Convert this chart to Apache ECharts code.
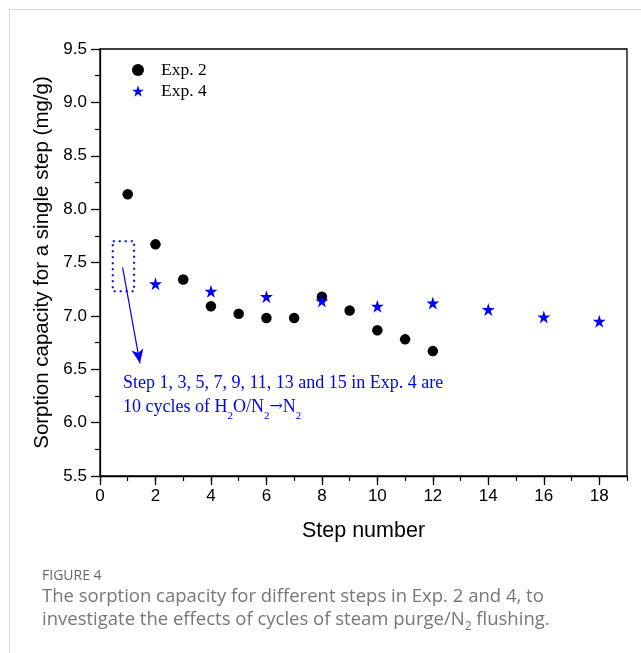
<!DOCTYPE html>
<html>
<head>
<meta charset="utf-8">
<script src="https://cdn.jsdelivr.net/npm/echarts@6/dist/echarts.min.js"></script>
<style>
html,body{margin:0;padding:0;background:#fff;}
#chart{width:641px;height:653px;}
</style>
</head>
<body>
<div id="chart"></div>
<script>
// ---- data ----
var exp2Steps = [1, 2, 3, 4, 5, 6, 7, 8, 9, 10, 11, 12];
var exp2Values = [8.14, 7.67, 7.34, 7.09, 7.02, 6.98, 6.98, 7.18, 7.05, 6.865, 6.78, 6.67];
var exp4Steps = [2, 4, 6, 8, 10, 12, 14, 16, 18];
var exp4Values = [7.30, 7.23, 7.18, 7.14, 7.09, 7.12, 7.06, 6.99, 6.95];
var xTickLabels = [0, 2, 4, 6, 8, 10, 12, 14, 16, 18];
var boxCorners = [[0.46, 7.70], [1.23, 7.70], [1.23, 7.23], [0.46, 7.23], [0.46, 7.70]];
var arrowEnds = [[0.815, 7.455], [1.44, 6.556]];

var starPath = 'path://M50,0 L61.2,34.5 L97.6,34.5 L68.2,55.9 L79.4,90.5 L50,69.1 L20.6,90.5 L31.8,55.9 L2.4,34.5 L38.8,34.5 Z';

var chart = echarts.init(document.getElementById('chart'), null, {renderer: 'canvas'});
var sansAxis = 'Liberation Sans, Arial, sans-serif';
var serif = 'Liberation Serif, Times New Roman, serif';

var option = {
  animation: false,
  backgroundColor: '#fff',
  grid: {left: 100, top: 49, right: 14, bottom: 177, show: true, borderColor: '#000', borderWidth: 1.3, backgroundColor: 'transparent'},
  legend: {
    orient: 'vertical', left: 127, top: 56, itemGap: 3,
    itemWidth: 12, itemHeight: 12,
    textStyle: {fontFamily: serif, fontSize: 17.5, color: '#000', padding: [0, 0, 0, 12]},
    data: [
      {name: 'Exp. 2', icon: 'circle', itemStyle: {color: '#000', opacity: 1}},
      {name: 'Exp. 4', icon: starPath, itemStyle: {color: '#0000ff', opacity: 1}}
    ]
  },
  xAxis: [{
    type: 'value', min: 0, max: 19, interval: 2,
    name: 'Step number', nameLocation: 'middle', nameGap: 44,
    nameTextStyle: {fontFamily: sansAxis, fontSize: 21.5, color: '#000'},
    axisLine: {show: true, onZero: false, lineStyle: {color: '#000', width: 1.3}},
    axisTick: {show: true, length: 9, lineStyle: {color: '#000', width: 1.3}, customValues: xTickLabels},
    axisLabel: {show: true, margin: 12, fontFamily: sansAxis, fontSize: 17, color: '#000', customValues: xTickLabels},
    splitLine: {show: false}
  }, {
    type: 'value', min: 0, max: 19, interval: 1, position: 'bottom',
    axisLine: {show: false}, axisLabel: {show: false}, splitLine: {show: false},
    axisTick: {show: true, length: 5, lineStyle: {color: '#000', width: 1.2}}
  }],
  yAxis: {
    type: 'value', min: 5.5, max: 9.5, interval: 0.5,
    name: 'Sorption capacity for a single step (mg/g)', nameLocation: 'middle', nameGap: 44,
    nameTextStyle: {fontFamily: sansAxis, fontSize: 20.5, color: '#000'},
    axisLine: {show: true, onZero: false, lineStyle: {color: '#000', width: 1.3}},
    axisTick: {show: true, length: 9, lineStyle: {color: '#000', width: 1.3}},
    minorTick: {show: true, splitNumber: 2, length: 5, lineStyle: {color: '#000', width: 1.2}},
    axisLabel: {margin: 13, fontFamily: sansAxis, fontSize: 17, color: '#000', formatter: function (v) { return v.toFixed(1); }},
    splitLine: {show: false}
  },
  series: [
    {
      name: 'Exp. 2', type: 'scatter', symbol: 'circle', symbolSize: 10.5,
      itemStyle: {color: '#000', opacity: 1},
      data: exp2Steps.map(function (s, i) { return [s, exp2Values[i]]; })
    },
    {
      name: 'Exp. 4', type: 'scatter', symbol: starPath, symbolSize: 13,
      itemStyle: {color: '#0000ff', opacity: 1},
      data: exp4Steps.map(function (s, i) { return [s, exp4Values[i]]; })
    },
    {
      name: 'box', type: 'line', symbol: 'none', silent: true,
      lineStyle: {color: '#0000ff', width: 2, type: [2, 4]},
      data: boxCorners,
      markLine: {
        silent: true, symbol: ['none', 'arrow'], symbolSize: [9, 14],
        label: {show: false},
        lineStyle: {color: '#0000ff', width: 1.2, type: 'solid'},
        data: [[{coord: arrowEnds[0]}, {coord: arrowEnds[1]}]]
      }
    }
  ],
  graphic: [
    {type: 'line', shape: {x1: 10, y1: 9.5, x2: 641, y2: 9.5}, style: {stroke: '#d9d9d9', lineWidth: 1}},
    {type: 'line', shape: {x1: 9.5, y1: 9, x2: 9.5, y2: 653}, style: {stroke: '#d9d9d9', lineWidth: 1}},
    {type: 'text', left: 123, top: 371, style: {
      text: 'Step 1, 3, 5, 7, 9, 11, 13 and 15 in Exp. 4 are\n10 cycles of H{s|2}O/N{s|2}{a|→}N{s|2}',
      fontFamily: serif, fontSize: 18, fill: '#0000ff', lineHeight: 24,
      rich: {
        s: {fontFamily: serif, fontSize: 11, fill: '#0000ff', verticalAlign: 'bottom', lineHeight: 24, padding: [0, 0, -3, 0]},
        a: {fontFamily: 'DejaVu Serif, serif', fontSize: 16, fill: '#0000ff', lineHeight: 24}
      }
    }},
    {type: 'text', left: 42, top: 569, style: {text: 'FIGURE 4', fontFamily: 'Open Sans, sans-serif', fontSize: 14, fill: '#666'}},
    {type: 'text', left: 42, top: 585, style: {
      text: 'The sorption capacity for different steps in Exp. 2 and 4, to\ninvestigate the effects of cycles of steam purge/N{s|2} flushing.',
      fontFamily: 'Open Sans, sans-serif', fontSize: 18.5, fill: '#777', lineHeight: 23,
      rich: {s: {fontFamily: 'Open Sans, sans-serif', fontSize: 12, fill: '#777', verticalAlign: 'bottom', lineHeight: 23, padding: [0, 0, -2, 0]}}
    }}
  ]
};
chart.setOption(option);
</script>
</body>
</html>
